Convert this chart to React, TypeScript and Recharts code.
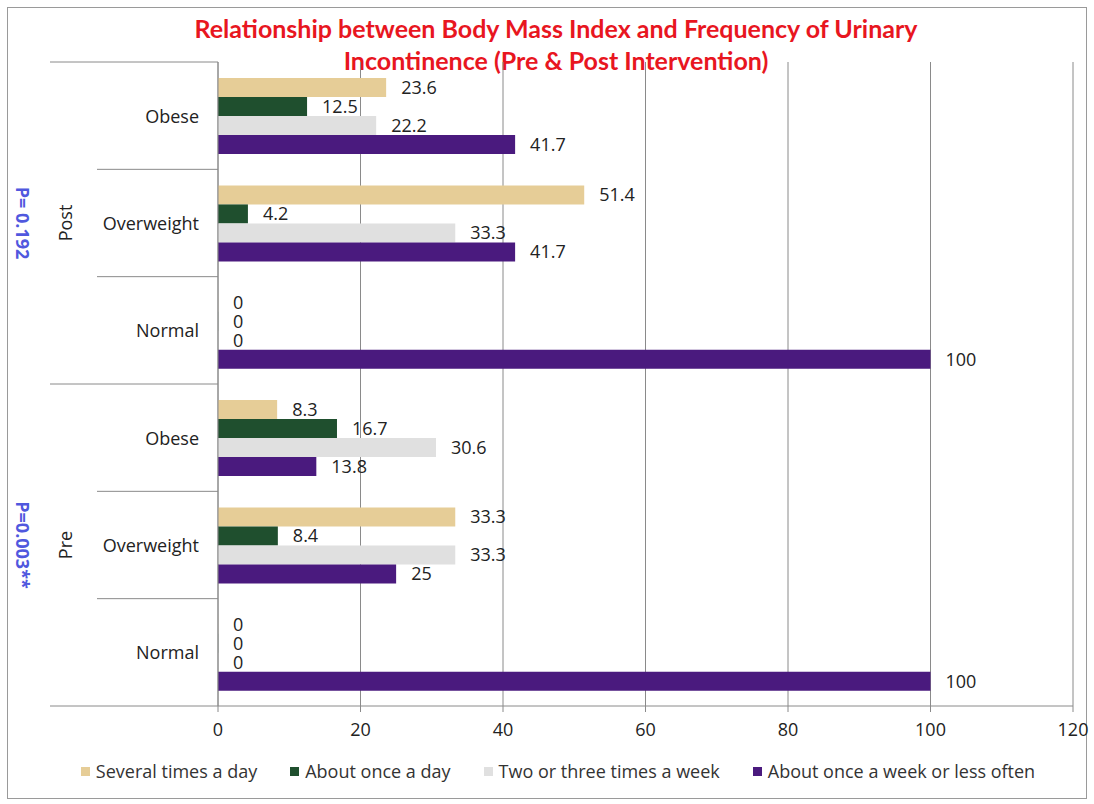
import React from 'react';
import {
  BarChart, Bar, XAxis, YAxis, CartesianGrid, Legend, LabelList,
} from 'recharts';

const categories = ['Obese', 'Overweight', 'Normal', 'Obese', 'Overweight', 'Normal'];
const phases = ['Post', 'Post', 'Post', 'Pre', 'Pre', 'Pre'];
const pValues: Record<string, string> = { Post: 'P= 0.192', Pre: 'P=0.003**' };

const severalTimesADay = [23.6, 51.4, 0, 8.3, 33.3, 0];
const aboutOnceADay = [12.5, 4.2, 0, 16.7, 8.4, 0];
const twoOrThreeTimesAWeek = [22.2, 33.3, 0, 30.6, 33.3, 0];
const onceAWeekOrLess = [41.7, 41.7, 100, 13.8, 25, 100];

const xTicks = [0, 20, 40, 60, 80, 100, 120];

const SERIES = [
  { key: 'several', name: 'Several times a day', color: '#e6cd97', values: severalTimesADay },
  { key: 'daily', name: 'About once a day', color: '#1f4f2e', values: aboutOnceADay },
  { key: 'weekly', name: 'Two or three times a week', color: '#e0e0e0', values: twoOrThreeTimesAWeek },
  { key: 'rare', name: 'About once a week or less often', color: '#4a1a7e', values: onceAWeekOrLess },
];

const data = categories.map((cat, i) => {
  const row: any = { id: `${phases[i]}-${cat}`, label: cat, phase: phases[i] };
  SERIES.forEach((s) => { row[s.key] = s.values[i]; });
  return row;
});

const W = 1094;
const H = 804;
const PLOT_LEFT = 218;
const PLOT_TOP = 62;
const PLOT_BOTTOM = 706;
const BAND = (PLOT_BOTTOM - PLOT_TOP) / categories.length;
const FONT = '"Open Sans", "Segoe UI", sans-serif';
const AXIS_GREY = '#8a8a8a';

function CategoryTick(props: any) {
  const { y, index } = props;
  const row = data[index];
  const half = BAND / 2;
  const groupStart = index % 3 === 0;
  const isMiddle = index % 3 === 1;
  const isLast = index === data.length - 1;
  return (
    <g>
      <text x={199} y={y} textAnchor="end" dominantBaseline="central"
        fontSize={18} fill="#222" fontFamily={FONT}>{row.label}</text>
      <line x1={groupStart ? 50 : 97} x2={PLOT_LEFT} y1={y - half} y2={y - half} stroke={AXIS_GREY} />
      {isLast && (
        <line x1={50} x2={PLOT_LEFT} y1={y + half} y2={y + half} stroke={AXIS_GREY} />
      )}
      {isMiddle && (
        <text x={65} y={y} textAnchor="middle" dominantBaseline="central"
          transform={`rotate(-90 65 ${y})`} fontSize={18} fill="#222" fontFamily={FONT}>
          {row.phase}
        </text>
      )}
      {isMiddle && (
        <text x={23} y={y} textAnchor="middle" dominantBaseline="central"
          transform={`rotate(90 23 ${y})`} fontSize={18} fontWeight="bold"
          fill="#5058de" fontFamily={FONT}>
          {pValues[row.phase]}
        </text>
      )}
    </g>
  );
}

function LegendContent() {
  return (
    <div style={{
      display: 'flex', justifyContent: 'center', gap: 33, height: 30,
      alignItems: 'center', fontFamily: FONT, fontSize: 18, color: '#333', paddingLeft: 22,
    }}>
      {SERIES.map((s) => (
        <div key={s.key} style={{ display: 'flex', alignItems: 'center', gap: 6 }}>
          <span style={{ width: 9, height: 9, background: s.color, display: 'inline-block' }} />
          <span>{s.name}</span>
        </div>
      ))}
    </div>
  );
}

export default function App() {
  return (
    <div style={{ position: 'absolute', left: 0, top: 0, width: W, height: H, background: '#fff' }}>
      <div style={{
        position: 'absolute', left: 7, top: 7, width: W - 16, height: H - 14,
        border: '1px solid #9a9a9a', pointerEvents: 'none',
      }} />
      <div style={{
        position: 'absolute', left: 0, top: 12, width: 1112, textAlign: 'center',
        color: '#e8161f', fontWeight: 'bold', fontSize: 25, lineHeight: '32px',
        fontFamily: 'Lato, "Open Sans", sans-serif',
      }}>
        Relationship between Body Mass Index and Frequency of Urinary<br />
        Incontinence (Pre &amp; Post Intervention)
      </div>
      <BarChart
        width={W}
        height={H}
        data={data}
        layout="vertical"
        barCategoryGap="15%"
        barGap={0}
        margin={{ top: PLOT_TOP, right: 21, left: 0, bottom: 38 }}
      >
        <CartesianGrid horizontal={false} stroke={AXIS_GREY} />
        <XAxis
          type="number"
          domain={[0, 120]}
          ticks={xTicks}
          interval={0}
          height={30}
          tickSize={6}
          tickMargin={11}
          axisLine={{ stroke: AXIS_GREY }}
          tickLine={{ stroke: AXIS_GREY }}
          tick={{ fontSize: 18, fill: '#222', fontFamily: FONT }}
        />
        <YAxis
          type="category"
          dataKey="id"
          width={PLOT_LEFT}
          interval={0}
          axisLine={{ stroke: AXIS_GREY }}
          tickLine={false}
          tick={<CategoryTick />}
        />
        <Legend
          verticalAlign="bottom"
          content={<LegendContent />}
          wrapperStyle={{ left: 0, width: W, top: 756 }}
        />
        {SERIES.map((s) => (
          <Bar key={s.key} dataKey={s.key} name={s.name} fill={s.color}
            minPointSize={0.1} isAnimationActive={false}>
            <LabelList dataKey={s.key} position="right" offset={15}
              style={{ fontSize: 18, fill: '#222', fontFamily: FONT }} />
          </Bar>
        ))}
      </BarChart>
    </div>
  );
}
